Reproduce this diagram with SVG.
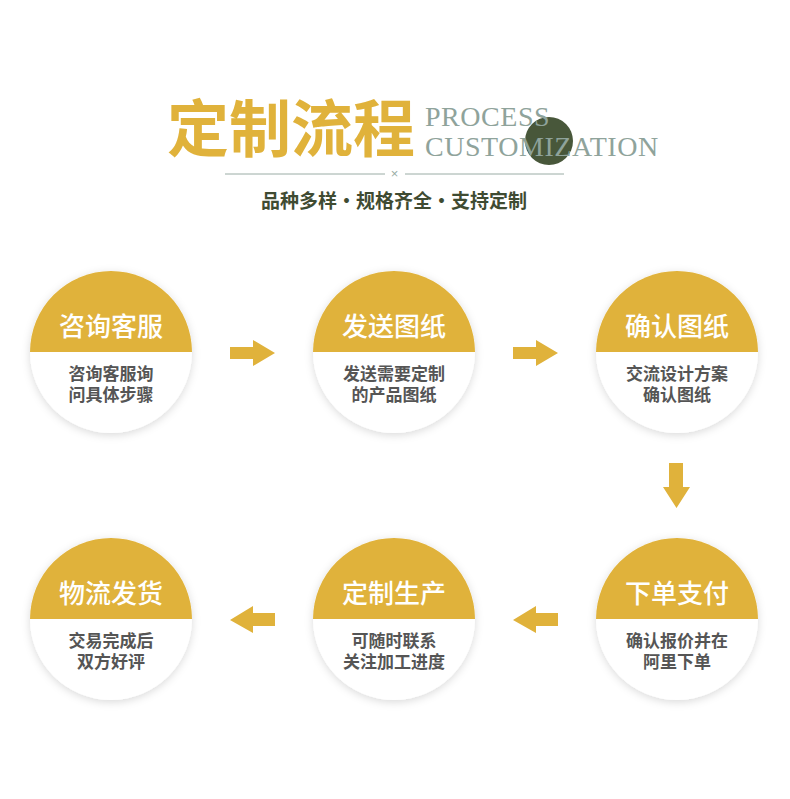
<svg xmlns="http://www.w3.org/2000/svg" width="790" height="799" viewBox="0 0 790 799">
<style>
.cjk{font-family:"Noto Sans CJK SC",sans-serif;font-weight:bold}
.title{fill:#e0b23b;font-size:62px}
.en{font-family:"Liberation Serif",serif;font-size:28px;fill:#8fa39b;letter-spacing:0.55px}
.sub{fill:#3f4b32;font-size:19px;text-anchor:middle}
.base{fill:#ffffff}
.top{fill:#e0b23b}
.head{fill:#ffffff;font-size:26px;text-anchor:middle;font-weight:500}
.body{fill:#555555;font-size:17px;text-anchor:middle}
.arrow{fill:#e0b23b}
.rule{stroke:#9aaca5;stroke-width:1}
</style>
<defs>
<filter id="sh" x="-20%" y="-20%" width="140%" height="140%">
<feDropShadow dx="0" dy="2" stdDeviation="4" flood-color="#000" flood-opacity="0.15"/>
</filter>
</defs>
<rect width="790" height="799" fill="#ffffff"/>
<g id="header">
<circle cx="549" cy="141" r="24" fill="#48573a"/>
<text class="cjk title" x="167" y="152">定制流程</text>
<text class="en" x="425" y="126">PROCESS</text>
<text class="en" x="425" y="156">CUSTOMIZATION</text>
<line class="rule" x1="225" y1="174" x2="385" y2="174"/>
<line class="rule" x1="405" y1="174" x2="564" y2="174"/>
<text x="394.5" y="178" font-family="Liberation Sans,sans-serif" font-size="13" fill="#9aaca5" text-anchor="middle">×</text>
<text class="cjk sub" x="394" y="208">品种多样·规格齐全·支持定制</text>
</g>
<g id="node1">
<circle class="base" cx="111" cy="352" r="81" filter="url(#sh)"/>
<path class="top" d="M30,352 A81,81 0 0 1 192,352 Z"/>
<text class="cjk head" x="111" y="336">咨询客服</text>
<text class="cjk body" x="111" y="380">咨询客服询</text>
<text class="cjk body" x="111" y="401">问具体步骤</text>
</g>
<g id="node2">
<circle class="base" cx="394" cy="352" r="81" filter="url(#sh)"/>
<path class="top" d="M313,352 A81,81 0 0 1 475,352 Z"/>
<text class="cjk head" x="394" y="336">发送图纸</text>
<text class="cjk body" x="394" y="380">发送需要定制</text>
<text class="cjk body" x="394" y="401">的产品图纸</text>
</g>
<g id="node3">
<circle class="base" cx="677" cy="352" r="81" filter="url(#sh)"/>
<path class="top" d="M596,352 A81,81 0 0 1 758,352 Z"/>
<text class="cjk head" x="677" y="336">确认图纸</text>
<text class="cjk body" x="677" y="380">交流设计方案</text>
<text class="cjk body" x="677" y="401">确认图纸</text>
</g>
<g id="node4">
<circle class="base" cx="677" cy="619" r="81" filter="url(#sh)"/>
<path class="top" d="M596,619 A81,81 0 0 1 758,619 Z"/>
<text class="cjk head" x="677" y="603">下单支付</text>
<text class="cjk body" x="677" y="647">确认报价并在</text>
<text class="cjk body" x="677" y="668">阿里下单</text>
</g>
<g id="node5">
<circle class="base" cx="394" cy="619" r="81" filter="url(#sh)"/>
<path class="top" d="M313,619 A81,81 0 0 1 475,619 Z"/>
<text class="cjk head" x="394" y="603">定制生产</text>
<text class="cjk body" x="394" y="647">可随时联系</text>
<text class="cjk body" x="394" y="668">关注加工进度</text>
</g>
<g id="node6">
<circle class="base" cx="111" cy="619" r="81" filter="url(#sh)"/>
<path class="top" d="M30,619 A81,81 0 0 1 192,619 Z"/>
<text class="cjk head" x="111" y="603">物流发货</text>
<text class="cjk body" x="111" y="647">交易完成后</text>
<text class="cjk body" x="111" y="668">双方好评</text>
</g>
<g id="connectors" class="arrow">
<polygon points="230,347 253,347 253,340 275,353 253,366 253,359 230,359"/>
<polygon points="513,347 536,347 536,340 558,353 536,366 536,359 513,359"/>
<polygon points="669,463 683,463 683,487 690,487 676.5,508 663,487 669,487"/>
<polygon points="558,613 536,613 536,606 513,620 536,633 536,626 558,626"/>
<polygon points="275,613 253,613 253,606 230,620 253,633 253,626 275,626"/>
</g>
</svg>
